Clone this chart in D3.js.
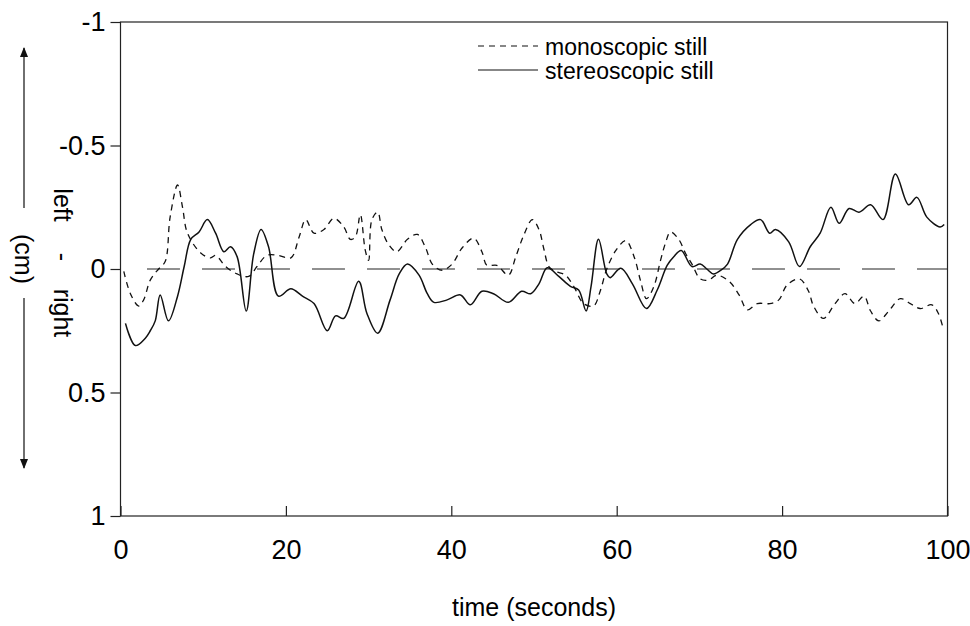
<!DOCTYPE html>
<html lang="en">
  <head>
    <meta charset="utf-8" />
    <title>left - right over time</title>
    <script src="https://d3js.org/d3.v7.min.js"></script>
    <style>
      body { margin: 0; background: #fff; }
      text { font-family: "Liberation Sans", Arial, sans-serif; fill: #000; }
    </style>
  </head>
  <body>
    <script type="text/javascript">
      // values (seconds, cm)
      const monoTime = [0.4, 1.2, 2.2, 2.8, 3.6, 4.6, 5.4, 6.0, 6.9, 7.5, 8.1, 9.7, 10.9, 11.5, 12.7, 14.1, 15.5, 16.5, 17.7, 19.1, 20.6, 21.6, 22.4, 23.4, 24.6, 25.8, 27.0, 27.8, 28.4, 29.0, 29.6, 30.0, 30.4, 31.1, 31.6, 32.4, 33.4, 34.7, 35.9, 36.9, 37.7, 38.9, 40.1, 41.3, 42.7, 43.7, 44.3, 45.5, 46.9, 47.8, 48.8, 49.8, 50.6, 51.2, 51.8, 52.6, 53.8, 54.8, 56.0, 57.2, 58.0, 58.8, 59.9, 61.1, 62.1, 62.9, 63.6, 64.5, 65.3, 65.9, 66.5, 67.5, 68.3, 69.1, 70.1, 71.1, 72.1, 73.6, 74.8, 75.8, 77.0, 78.5, 79.6, 80.6, 82.1, 83.2, 83.8, 85.0, 86.4, 87.6, 88.8, 89.9, 90.7, 91.7, 92.9, 94.3, 95.5, 96.7, 98.1, 98.9, 99.5];
      const monoValue = [0.01, 0.1, 0.15, 0.125, 0.045, 0, -0.03, -0.21, -0.34, -0.25, -0.145, -0.065, -0.045, -0.055, -0.01, 0.02, 0.03, -0.01, -0.055, -0.055, -0.045, -0.13, -0.2, -0.145, -0.16, -0.205, -0.17, -0.12, -0.13, -0.22, -0.075, -0.035, -0.2, -0.23, -0.16, -0.1, -0.07, -0.12, -0.14, -0.085, -0.02, 0.005, -0.02, -0.085, -0.125, -0.07, -0.015, -0.015, 0.025, -0.05, -0.14, -0.2, -0.16, -0.08, -0.01, 0.01, 0.025, 0.07, 0.14, 0.15, 0.09, 0, -0.075, -0.115, -0.05, 0.05, 0.12, 0.07, -0.035, -0.105, -0.15, -0.12, -0.065, -0.02, 0.04, 0.045, 0.025, 0.05, 0.105, 0.165, 0.14, 0.14, 0.125, 0.065, 0.04, 0.09, 0.15, 0.2, 0.14, 0.1, 0.14, 0.11, 0.17, 0.21, 0.17, 0.12, 0.14, 0.16, 0.145, 0.18, 0.245];

      const stereoTime = [0.6, 1.8, 3.0, 3.6, 4.2, 4.8, 5.8, 6.9, 7.7, 8.5, 9.5, 10.5, 11.5, 12.5, 13.3, 14.1, 15.2, 16.1, 17.0, 17.9, 19.1, 20.6, 22.0, 23.4, 25.0, 26.0, 27.0, 28.8, 29.8, 31.1, 32.6, 33.7, 34.7, 36.1, 37.1, 37.9, 39.5, 41.1, 42.3, 43.7, 45.1, 46.9, 48.5, 49.6, 50.6, 51.6, 53.0, 54.4, 55.4, 56.3, 56.9, 57.8, 58.8, 59.2, 60.5, 61.9, 63.6, 64.9, 66.1, 66.9, 67.8, 69.1, 70.1, 70.9, 71.7, 72.6, 73.4, 74.6, 76.2, 77.4, 78.5, 79.2, 80.8, 82.1, 83.4, 84.6, 85.9, 86.9, 88.1, 89.3, 90.7, 92.2, 93.7, 95.3, 96.3, 97.5, 99.1, 99.6];
      const stereoValue = [0.22, 0.31, 0.28, 0.25, 0.21, 0.105, 0.21, 0.11, -0.01, -0.12, -0.15, -0.2, -0.145, -0.07, -0.09, -0.05, 0.17, -0.06, -0.16, -0.09, 0.11, 0.08, 0.11, 0.14, 0.25, 0.19, 0.2, 0.05, 0.18, 0.26, 0.125, 0.02, -0.02, 0.025, 0.1, 0.135, 0.125, 0.105, 0.145, 0.09, 0.1, 0.135, 0.09, 0.1, 0.06, -0.005, 0.03, 0.07, 0.085, 0.17, 0.07, -0.12, 0.02, 0.035, -0.003, 0.06, 0.16, 0.085, -0.015, -0.05, -0.075, -0.01, -0.02, 0, 0.02, 0.005, -0.02, -0.12, -0.18, -0.2, -0.145, -0.16, -0.11, -0.01, -0.09, -0.145, -0.25, -0.185, -0.245, -0.23, -0.26, -0.2, -0.385, -0.26, -0.29, -0.21, -0.17, -0.18];

      // zero reference line
      const refTime = [3.2, 100];
      const refValue = [0, 0];

      const xTicks = [0, 20, 40, 60, 80, 100];
      const yTicks = [-1, -0.5, 0, 0.5, 1];
      const legendLabels = ["monoscopic still", "stereoscopic still"];

      const w = 970;
      const h = 626;
      const padLeft = 120.5, padRight = 947.5, padTop = 22, padBottom = 516;

      let svg = d3.select("body").append("svg").attr("width", w).attr("height", h);

      let xScale = d3.scaleLinear().domain([0, 100]).range([padLeft, padRight]);
      let yScale = d3.scaleLinear().domain([-1, 1]).range([padTop, padBottom]);

      let line = d3
        .line()
        .x((d) => xScale(d[0]))
        .y((d) => yScale(d[1]))
        .curve(d3.curveCatmullRom.alpha(0.5));

      const zip = (a, b) => a.map((t, i) => [t, b[i]]);

      // reference line
      svg
        .append("path")
        .datum(zip(refTime, refValue))
        .attr("d", d3.line().x((d) => xScale(d[0])).y((d) => yScale(d[1])))
        .attr("fill", "none")
        .attr("stroke", "#222")
        .attr("stroke-width", 1.2)
        .attr("stroke-dasharray", "33,22");

      svg
        .append("path")
        .datum(zip(monoTime, monoValue))
        .attr("d", line)
        .attr("fill", "none")
        .attr("stroke", "#111")
        .attr("stroke-width", 1.3)
        .attr("stroke-dasharray", "6,5");

      svg
        .append("path")
        .datum(zip(stereoTime, stereoValue))
        .attr("d", line)
        .attr("fill", "none")
        .attr("stroke", "#111")
        .attr("stroke-width", 1.5);

      // frame
      svg
        .append("rect")
        .attr("x", padLeft)
        .attr("y", padTop)
        .attr("width", padRight - padLeft)
        .attr("height", padBottom - padTop)
        .attr("fill", "none")
        .attr("stroke", "#222")
        .attr("stroke-width", 1.2);

      // axes (plain hyphen for negatives, like the original)
      let xAxis = d3.axisBottom(xScale).tickValues(xTicks).tickSizeInner(-10).tickSizeOuter(0).tickPadding(24)
        .tickFormat((d) => String(d));
      let gx = svg.append("g").attr("transform", "translate(0," + padBottom + ")").call(xAxis);

      let yAxis = d3.axisLeft(yScale).tickValues(yTicks).tickSizeInner(10).tickSizeOuter(0).tickPadding(5)
        .tickFormat((d) => String(d));
      let gy = svg.append("g").attr("transform", "translate(" + padLeft + ",0)").call(yAxis);

      [gx, gy].forEach((g) => {
        g.select(".domain").remove();
        g.selectAll(".tick line").attr("stroke", "#222").attr("stroke-width", 1.2);
        g.selectAll(".tick text").attr("font-size", "27px").attr("font-family", "Liberation Sans, Arial, sans-serif").attr("fill", "#000");
      });

      // axis titles
      svg
        .append("text")
        .attr("x", (padLeft + padRight) / 2)
        .attr("y", 616)
        .attr("text-anchor", "middle")
        .attr("font-size", "25px")
        .text("time (seconds)");

      [["left", 205], ["-", 257], ["right", 313]].forEach((p) => {
        svg
          .append("text")
          .attr("transform", "translate(54," + p[1] + ") rotate(90)")
          .attr("text-anchor", "middle")
          .attr("font-size", "25px")
          .text(p[0]);
      });

      svg
        .append("text")
        .attr("transform", "translate(15,259) rotate(90)")
        .attr("text-anchor", "middle")
        .attr("font-size", "25px")
        .text("(cm)");

      // arrows beside the y title
      let defs = svg.append("defs");
      defs
        .append("marker")
        .attr("id", "head")
        .attr("viewBox", "0 0 10 10")
        .attr("refX", 9)
        .attr("refY", 5)
        .attr("markerWidth", 10)
        .attr("markerHeight", 10)
        .attr("markerUnits", "userSpaceOnUse")
        .attr("orient", "auto")
        .append("path")
        .attr("d", "M0,1 L10,5 L0,9 Z")
        .attr("fill", "#111");

      [[208, 48], [298, 468]].forEach((a) => {
        svg
          .append("line")
          .attr("x1", 24)
          .attr("x2", 24)
          .attr("y1", a[0])
          .attr("y2", a[1])
          .attr("stroke", "#222")
          .attr("stroke-width", 1.3)
          .attr("marker-end", "url(#head)");
      });

      // legend
      let legend = svg.append("g");
      legendLabels.forEach((lab, i) => {
        let y = 46 + i * 24;
        legend
          .append("line")
          .attr("x1", 478)
          .attr("x2", 538)
          .attr("y1", y)
          .attr("y2", y)
          .attr("stroke", "#111")
          .attr("stroke-width", 1.2)
          .attr("stroke-dasharray", i === 0 ? "6,5" : null);
        legend
          .append("text")
          .attr("x", 545)
          .attr("y", y + 9)
          .attr("font-size", "23px")
          .text(lab);
      });
    </script>
  </body>
</html>
